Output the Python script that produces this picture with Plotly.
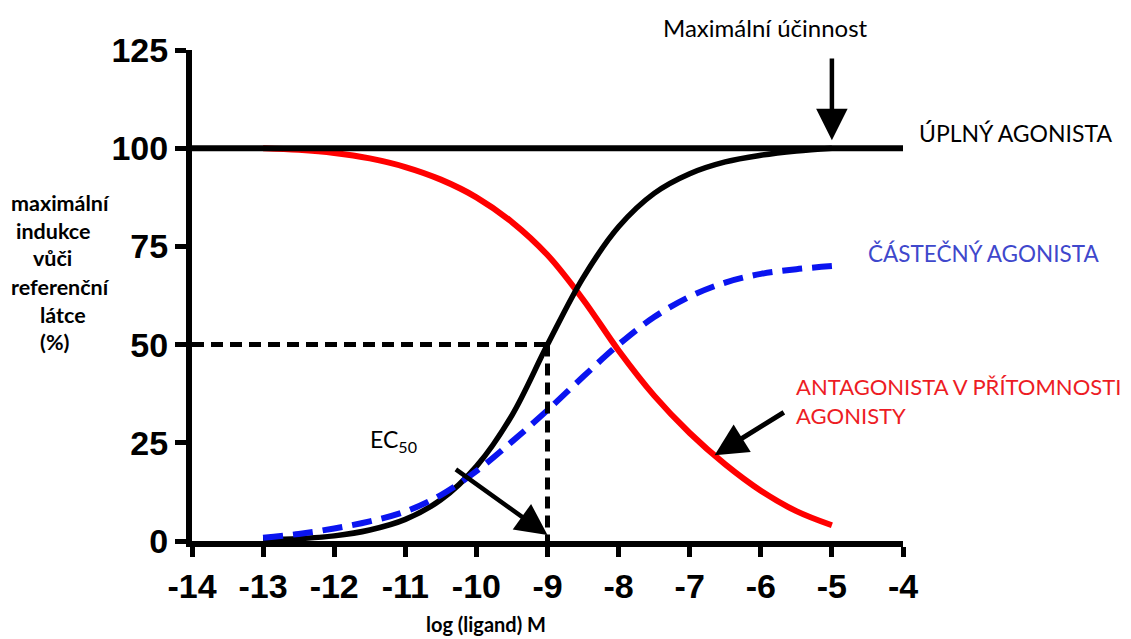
import plotly.graph_objects as go

# Concentration (log M) at which each response curve is sampled
log_conc = [-13, -12.5, -12, -11.5, -11, -10.5, -10, -9.5, -9,
            -8.5, -8, -7.5, -7, -6.5, -6, -5.5, -5]

# Response (% of the reference compound's maximal induction)
full_agonist = [0.3, 0.6, 1.3, 2.8, 5.5, 10.5, 19, 32, 50,
                67, 80, 88.5, 93.5, 96.5, 98.2, 99.3, 100]
partial_agonist = [0.8, 1.8, 3.2, 5.0, 7.5, 11.7, 17.8, 25.3, 33.3,
                   41.8, 50, 57, 62.2, 65.8, 68, 69.2, 70]
antagonist = [100, 99.6, 98.8, 97.4, 95.2, 92.0, 87.5, 81.2, 72.8,
              61.5, 48.5, 37, 27.5, 19.5, 12.8, 7.6, 4.0]

x_ticks = [-14, -13, -12, -11, -10, -9, -8, -7, -6, -5, -4]
y_ticks = [0, 25, 50, 75, 100, 125]

max_effect = 100      # full-agonist plateau
ec50_log = -9         # log EC50 of the full agonist
half_effect = 50

W, H = 1131, 639
L, R, T, B = 192, 903, 50, 541   # plot area in pixels


def px(xp):
    return (xp - L) / (R - L)


def py(yp):
    return (B - yp) / (B - T)


fig = go.Figure()

fig.add_trace(go.Scatter(x=log_conc, y=antagonist, mode="lines",
                         line=dict(color="#ff0000", width=6, shape="spline"),
                         hoverinfo="skip", cliponaxis=False))
fig.add_trace(go.Scatter(x=log_conc, y=full_agonist, mode="lines",
                         line=dict(color="black", width=5.5, shape="spline"),
                         hoverinfo="skip", cliponaxis=False))
fig.add_trace(go.Scatter(x=log_conc, y=partial_agonist, mode="lines",
                         line=dict(color="#0a14f0", width=6, shape="spline",
                                   dash="20px,10px"),
                         hoverinfo="skip", cliponaxis=False))

shapes = [
    # plateau at maximal effect
    dict(type="line", xref="x", yref="y", x0=x_ticks[0], x1=x_ticks[-1],
         y0=max_effect, y1=max_effect, line=dict(color="black", width=6)),
    # EC50 guides
    dict(type="line", xref="x", yref="y", x0=x_ticks[0], x1=ec50_log,
         y0=half_effect, y1=half_effect,
         line=dict(color="black", width=5, dash="12px,7px")),
    dict(type="line", xref="x", yref="y", x0=ec50_log, x1=ec50_log,
         y0=half_effect, y1=0,
         line=dict(color="black", width=5, dash="12px,7px")),
]

fam = "Lato, Open Sans, sans-serif"
annotations = [
    dict(xref="paper", yref="paper", x=px(765), y=py(27), text="Maximální účinnost",
         showarrow=False, font=dict(size=24, family=fam, color="black"),
         xanchor="center", yanchor="middle"),
    dict(xref="paper", yref="paper", x=px(917), y=py(133), text="ÚPLNÝ AGONISTA",
         showarrow=False, font=dict(size=23, family=fam, color="black"),
         xanchor="left", yanchor="middle"),
    dict(xref="paper", yref="paper", x=px(866), y=py(253), text="ČÁSTEČNÝ AGONISTA",
         showarrow=False, font=dict(size=22.5, family=fam, color="#3f48cc"),
         xanchor="left", yanchor="middle"),
    dict(xref="paper", yref="paper", x=px(794), y=py(401),
         text="ANTAGONISTA V PŘÍTOMNOSTI<br>AGONISTY",
         showarrow=False, font=dict(size=22, family=fam, color="#ed1c24"),
         xanchor="left", yanchor="middle", align="left"),
    dict(xref="paper", yref="paper", x=px(368), y=py(440),
         text="EC<sub>50</sub>",
         showarrow=False, font=dict(size=23, family=fam, color="black"),
         xanchor="left", yanchor="middle"),
    dict(xref="paper", yref="paper", x=px(486), y=py(624), text="<b>log (ligand) M</b>",
         showarrow=False, font=dict(size=20, family=fam, color="black"),
         xanchor="center", yanchor="middle"),
    # arrows
    dict(x=-5, y=102, ax=-5, ay=123.2, xref="x", yref="y", axref="x", ayref="y",
         text="", showarrow=True, arrowhead=2, arrowwidth=4.5, arrowsize=1.4,
         arrowcolor="black", standoff=0),
    dict(x=ec50_log, y=1.5, ax=-10.31, ay=18.5, xref="x", yref="y", axref="x", ayref="y",
         text="", showarrow=True, arrowhead=2, arrowwidth=4.5, arrowsize=1.4,
         arrowcolor="black", standoff=0),
    dict(x=-6.65, y=21.8, ax=-5.655, ay=33, xref="x", yref="y", axref="x", ayref="y",
         text="", showarrow=True, arrowhead=2, arrowwidth=5, arrowsize=1.3,
         arrowcolor="black", standoff=0),
]

# multi-line y-axis title
y_title = [("maximální", 9, 203), ("indukce", 14, 231), ("vůči", 31, 258),
           ("referenční", 9, 287), ("látce", 38, 315), ("(%)", 38, 342)]
for line, xp, yp in y_title:
    annotations.append(dict(xref="paper", yref="paper", x=px(xp), y=py(yp),
                            text=f"<b>{line}</b>", showarrow=False,
                            font=dict(size=21.5, family=fam, color="black"),
                            xanchor="left", yanchor="middle"))

tick_font = dict(family="Liberation Sans, Arial, sans-serif", size=34,
                 color="black", weight="bold")

fig.update_layout(
    width=W, height=H,
    margin=dict(l=L, r=W - R, t=T, b=H - B, pad=0),
    paper_bgcolor="white", plot_bgcolor="white",
    showlegend=False,
    shapes=shapes,
    annotations=annotations,
    xaxis=dict(range=[x_ticks[0], x_ticks[-1]], tickvals=x_ticks,
               ticktext=[str(v) for v in x_ticks],
               showgrid=False, zeroline=False,
               showline=True, linewidth=6, linecolor="black",
               ticks="outside", ticklen=10, tickwidth=5, tickcolor="black",
               tickfont=tick_font),
    yaxis=dict(range=[y_ticks[0], y_ticks[-1]], tickvals=y_ticks,
               showgrid=False, zeroline=False,
               showline=True, linewidth=6, linecolor="black",
               ticks="outside", ticklen=11, tickwidth=5, tickcolor="black",
               tickfont=tick_font),
)

fig.write_html("out.html")
